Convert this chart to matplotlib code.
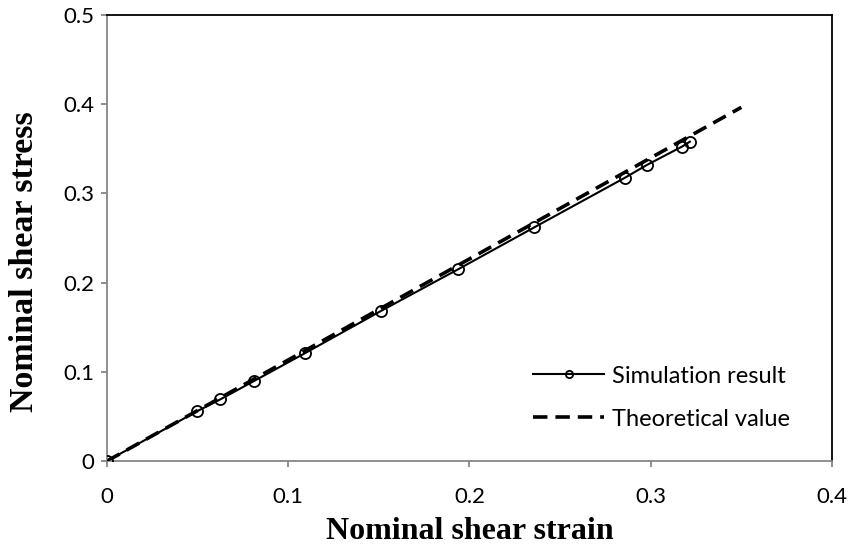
import matplotlib
matplotlib.use('Agg')
import matplotlib.pyplot as plt

# Simulation result
sim_strain = [0, 0.0497, 0.0626, 0.0812, 0.1095, 0.1513, 0.1936, 0.2358,
              0.2858, 0.2979, 0.3172, 0.3216]
sim_stress = [0, 0.0558, 0.0692, 0.0898, 0.1212, 0.1684, 0.2148, 0.2620,
              0.3176, 0.3319, 0.3524, 0.3580]

# Theoretical value
theo_strain = [0, 0.35]
theo_stress = [0, 0.3965]

x_ticks = [0, 0.1, 0.2, 0.3, 0.4]
y_ticks = [0, 0.1, 0.2, 0.3, 0.4, 0.5]

grey = '#868686'

fig = plt.figure(figsize=(8.54, 5.51), dpi=100)
ax = fig.add_axes([0.1253, 0.1633, 0.9742 - 0.1253, 0.9728 - 0.1633])

ax.plot(sim_strain, sim_stress, 'k-', lw=1.5, marker='o', ms=8,
        mfc='none', mew=1.3, label='Simulation result', zorder=3)
ax.plot(theo_strain, theo_stress, 'k--', lw=2.6, dashes=(4, 2.2),
        label='Theoretical value', zorder=2)

ax.set_xlim(0, 0.4)
ax.set_ylim(0, 0.5)
ax.set_xticks(x_ticks)
ax.set_yticks(y_ticks)
ax.set_xticklabels(['0', '0.1', '0.2', '0.3', '0.4'])
ax.set_yticklabels(['0', '0.1', '0.2', '0.3', '0.4', '0.5'])

for s in ['left', 'bottom']:
    ax.spines[s].set_color(grey)
    ax.spines[s].set_linewidth(1.3)
for s in ['top', 'right']:
    ax.spines[s].set_color('black')
    ax.spines[s].set_linewidth(1.3)
ax.tick_params(direction='out', length=4, width=1.3, color=grey,
               labelsize=16)
ax.tick_params(axis='x', pad=15)
ax.tick_params(axis='y', pad=5)
for lab in ax.get_xticklabels() + ax.get_yticklabels():
    lab.set_family('Lato')

ax.set_xlabel('Nominal shear strain', family='Liberation Serif',
              weight='bold', fontsize=23)
ax.set_ylabel('Nominal shear stress', family='Liberation Serif',
              weight='bold', fontsize=24.5)
ax.xaxis.set_label_coords(0.5, -0.126)
ax.yaxis.set_label_coords(-0.092, 0.448)

leg = ax.legend(loc='lower right', bbox_to_anchor=(0.972, 0.023),
                frameon=False, prop={'family': 'Lato', 'size': 17},
                handlelength=3.0, handletextpad=0.35, labelspacing=0.93,
                markerscale=0.65)

fig.savefig('out.png', dpi=100)
